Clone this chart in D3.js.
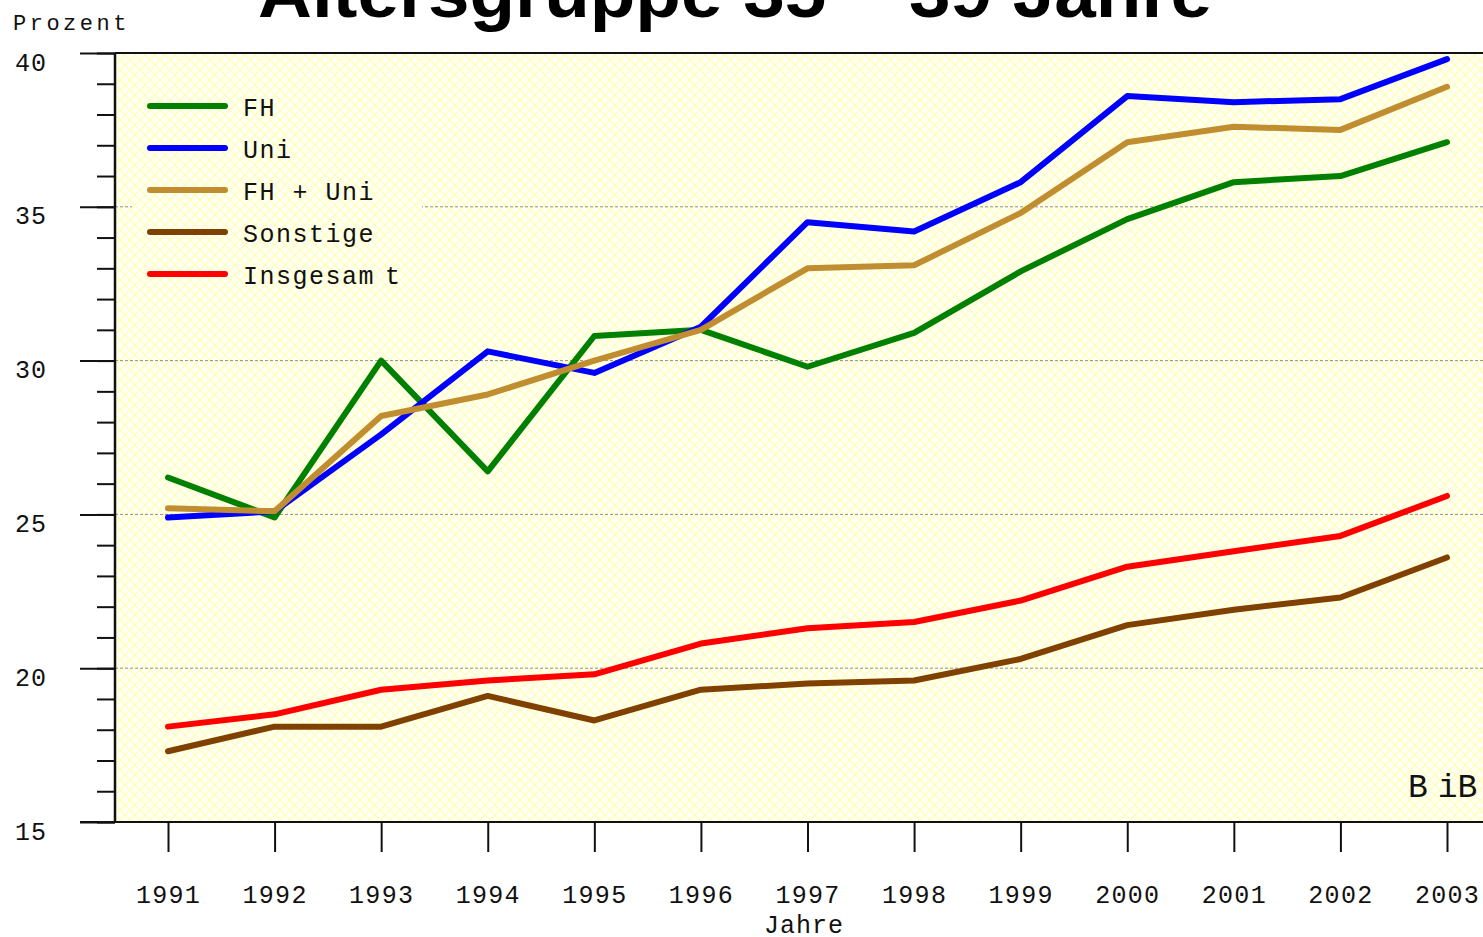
<!DOCTYPE html>
<html>
<head>
<meta charset="utf-8">
<script src="https://cdn.jsdelivr.net/npm/d3@7"></script>
<style>
  body { margin: 0; background: #fff; }
  svg { display: block; }
  .mono { font-family: "Liberation Mono", "Courier New", monospace; fill: #111; }
</style>
</head>
<body>
<svg id="chart" width="1483" height="937"></svg>
<script>
// ======== DATA ========
const years = [1991, 1992, 1993, 1994, 1995, 1996, 1997, 1998, 1999, 2000, 2001, 2002, 2003];
const seriesNames = ['FH', 'Uni', 'FH + Uni', 'Sonstige', 'Insgesamt'];
const seriesColors = ['#008000', '#0000ff', '#c08e30', '#804000', '#ff0000'];
const fh        = [26.2, 24.9, 30.0, 26.4, 30.8, 31.0, 29.8, 30.9, 32.9, 34.6, 35.8, 36.0, 37.1];
const uni       = [24.9, 25.1, 27.6, 30.3, 29.6, 31.1, 34.5, 34.2, 35.8, 38.6, 38.4, 38.5, 39.8];
const fhUni     = [25.2, 25.1, 28.2, 28.9, 30.0, 31.0, 33.0, 33.1, 34.8, 37.1, 37.6, 37.5, 38.9];
const sonstige  = [17.3, 18.1, 18.1, 19.1, 18.3, 19.3, 19.5, 19.6, 20.3, 21.4, 21.9, 22.3, 23.6];
const insgesamt = [18.1, 18.5, 19.3, 19.6, 19.8, 20.8, 21.3, 21.5, 22.2, 23.3, 23.8, 24.3, 25.6];
const yMajorTicks = [15, 20, 25, 30, 35, 40];
const gridValues = [20, 25, 30, 35];

const allSeries = [fh, uni, fhUni, sonstige, insgesamt];

// ======== LAYOUT ========
const svg = d3.select('#chart');
const W = 1483;
const plotLeft = 115, plotTop = 53, plotBottom = 822;

const x = d3.scaleLinear().domain([1991, 2003]).range([168, 1447]);
const y = d3.scaleLinear().domain([15, 40]).range([plotBottom, plotTop]);

// hatch pattern for the plot background
const defs = svg.append('defs');
const pat = defs.append('pattern')
    .attr('id', 'hatch')
    .attr('patternUnits', 'userSpaceOnUse')
    .attr('width', 10).attr('height', 10);
pat.append('rect').attr('width', 10).attr('height', 10).attr('fill', '#fffff4');
pat.append('path').attr('d', 'M0,0 L10,10 M10,0 L0,10')
    .attr('stroke', '#ffffb4').attr('stroke-width', 1.2);

svg.append('rect')
    .attr('x', plotLeft).attr('y', plotTop)
    .attr('width', W - plotLeft).attr('height', plotBottom - plotTop)
    .attr('fill', 'url(#hatch)');

// dashed grid
svg.append('g').selectAll('line')
    .data(gridValues)
    .join('line')
    .attr('x1', plotLeft).attr('x2', W)
    .attr('y1', d => y(d)).attr('y2', d => y(d))
    .attr('stroke', '#909090').attr('stroke-width', 1)
    .attr('stroke-dasharray', '3,2');

// legend box (hides the grid behind it)
const legend = svg.append('g');
legend.append('rect')
    .attr('x', 132).attr('y', 75).attr('width', 290).attr('height', 225)
    .attr('fill', 'url(#hatch)');

// ----- LINES -----
const line = d3.line()
    .x((d, i) => x(years[i]))
    .y(d => y(d));

svg.append('g').selectAll('path')
    .data(allSeries)
    .join('path')
    .attr('d', line)
    .attr('fill', 'none')
    .attr('stroke', (d, i) => seriesColors[i])
    .attr('stroke-width', 6)
    .attr('stroke-linejoin', 'round')
    .attr('stroke-linecap', 'round');

// ----- AXES -----
// minor y ticks every 1 %
svg.append('g')
    .attr('transform', `translate(${plotLeft},0)`)
    .call(d3.axisLeft(y).tickValues(d3.range(15, 41)).tickSize(18).tickFormat(''))
    .call(g => g.select('.domain').remove())
    .call(g => g.selectAll('line').attr('stroke', '#111').attr('stroke-width', 2));

// major y ticks with labels
svg.append('g')
    .attr('transform', `translate(${plotLeft},0)`)
    .call(d3.axisLeft(y).tickValues(yMajorTicks).tickSize(35).tickPadding(33))
    .call(g => g.select('.domain').remove())
    .call(g => g.selectAll('line').attr('stroke', '#111').attr('stroke-width', 2))
    .call(g => g.selectAll('text')
        .attr('class', 'mono')
        .attr('dy', '0.68em')
        .style('font-size', '25px')
        .style('letter-spacing', '1px'));

// x ticks + labels
svg.append('g')
    .attr('transform', `translate(0,${plotBottom})`)
    .call(d3.axisBottom(x).tickValues(years).tickSize(30).tickFormat(d3.format('d')))
    .call(g => g.select('.domain').remove())
    .call(g => g.selectAll('line').attr('stroke', '#111').attr('stroke-width', 2))
    .call(g => g.selectAll('text')
        .attr('class', 'mono')
        .attr('y', 81).attr('dy', 0)
        .style('font-size', '25px')
        .style('letter-spacing', '1.3px'));

// frame
svg.append('line').attr('x1', 80).attr('x2', W).attr('y1', plotBottom).attr('y2', plotBottom)
    .attr('stroke', '#111').attr('stroke-width', 2);
svg.append('line').attr('x1', plotLeft).attr('x2', W).attr('y1', plotTop).attr('y2', plotTop)
    .attr('stroke', '#111').attr('stroke-width', 2);
svg.append('line').attr('x1', plotLeft).attr('x2', plotLeft).attr('y1', plotTop).attr('y2', plotBottom)
    .attr('stroke', '#111').attr('stroke-width', 2.5);

// legend entries
const item = legend.selectAll('g.item')
    .data(seriesNames)
    .join('g')
    .attr('class', 'item')
    .attr('transform', (d, i) => `translate(0,${106 + i * 42})`);
item.append('line')
    .attr('x1', 150).attr('x2', 225)
    .attr('stroke', (d, i) => seriesColors[i])
    .attr('stroke-width', 6)
    .attr('stroke-linecap', 'round');
const label = item.append('text')
    .attr('class', 'mono')
    .attr('x', 243).attr('y', 10)
    .style('font-size', '25px')
    .style('letter-spacing', '1.5px');
label.filter(d => d !== 'Insgesamt').text(d => d);
label.filter(d => d === 'Insgesamt').each(function () {
    const t = d3.select(this);
    t.append('tspan').text('Insgesam');
    t.append('tspan').attr('dx', 10).text('t');
});

// titles and labels
const title = svg.append('text')
    .attr('x', 735).attr('y', 17)
    .attr('text-anchor', 'middle')
    .attr('textLength', 954).attr('lengthAdjust', 'spacingAndGlyphs')
    .style('font-family', '"Liberation Sans", Arial, sans-serif')
    .style('font-weight', 'bold')
    .style('font-size', '70px');
title.append('tspan').text('Altersgruppe 35 ');
title.append('tspan').attr('dy', -16).text('–');
title.append('tspan').attr('dy', 16).text(' 39 Jahre');

svg.append('text').attr('class', 'mono')
    .attr('x', 13).attr('y', 30)
    .style('font-size', '22px').style('letter-spacing', '3.5px')
    .text('Prozent');

svg.append('text').attr('class', 'mono')
    .attr('x', 804).attr('y', 933)
    .attr('text-anchor', 'middle')
    .style('font-size', '25px').style('letter-spacing', '1px')
    .text('Jahre');

const bib = svg.append('text').attr('class', 'mono')
    .attr('x', 1408).attr('y', 797)
    .style('font-size', '33px');
bib.append('tspan').text('B');
bib.append('tspan').attr('dx', 10).text('iB');
</script>
</body>
</html>
